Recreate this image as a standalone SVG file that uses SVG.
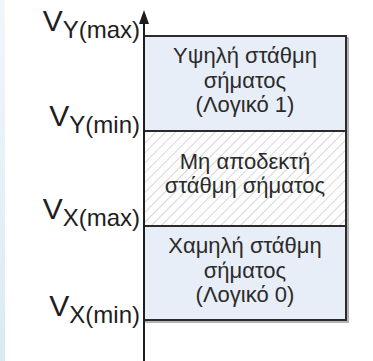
<svg xmlns="http://www.w3.org/2000/svg" width="373" height="361" viewBox="0 0 373 361">
<defs>
<linearGradient id="strip" x1="0" y1="0" x2="0" y2="1">
<stop offset="0" stop-color="#f0f7fb"/>
<stop offset="1" stop-color="#d9eaf4"/>
</linearGradient>
<pattern id="hatch" patternUnits="userSpaceOnUse" width="7" height="7" patternTransform="rotate(45)">
<rect width="7" height="7" fill="#ffffff"/>
<line x1="0" y1="0" x2="0" y2="7" stroke="#bdbdbd" stroke-width="1.2"/>
</pattern>
</defs>
<style>
.box{stroke:#2b2b2b;stroke-width:2}
.lbl{font-family:"Liberation Sans",Arial,sans-serif;fill:#1e1e1e}
.txt{font-family:"Liberation Sans",Arial,sans-serif;font-size:22px;fill:#2b2b2b;text-anchor:middle}
.big{font-size:30px}
.sub{font-size:24px}
</style>
<rect x="0" y="0" width="373" height="361" fill="#ffffff"/>
<rect x="0" y="0" width="5" height="361" fill="url(#strip)"/>
<rect x="146" y="38" width="202" height="284" fill="none" stroke="#9a9a9a" stroke-width="1.5"/>
<g id="high">
<rect class="box" x="144" y="36" width="202" height="95" fill="#e8eef8"/>
<text class="txt" x="245" y="63">Υψηλή στάθμη</text>
<text class="txt" x="245" y="88">σήματος</text>
<text class="txt" x="245" y="112">(Λογικό 1)</text>
</g>
<g id="forbidden">
<rect class="box" x="144" y="131" width="202" height="95" fill="url(#hatch)"/>
<text class="txt" x="245" y="169">Μη αποδεκτή</text>
<text class="txt" x="245" y="193">στάθμη σήματος</text>
</g>
<g id="labels">
<text class="lbl" x="140" y="38" text-anchor="end"><tspan class="big" dy="-7">V</tspan><tspan class="sub" dy="7">Y(max)</tspan></text>
<text class="lbl" x="140" y="133" text-anchor="end"><tspan class="big" dy="-7">V</tspan><tspan class="sub" dy="7">Y(min)</tspan></text>
<text class="lbl" x="140" y="226" text-anchor="end"><tspan class="big" dy="-7">V</tspan><tspan class="sub" dy="7">X(max)</tspan></text>
<text class="lbl" x="140" y="323" text-anchor="end"><tspan class="big" dy="-7">V</tspan><tspan class="sub" dy="7">X(min)</tspan></text>
</g>
<g id="low">
<rect class="box" x="144" y="226" width="202" height="94" fill="#e8eef8"/>
<text class="txt" x="245" y="253">Χαμηλή στάθμη</text>
<text class="txt" x="245" y="278">σήματος</text>
<text class="txt" x="245" y="302">(Λογικό 0)</text>
</g>
<g id="connectors">
<line x1="144" y1="361" x2="144" y2="20" stroke="#1e1e1e" stroke-width="2"/>
<polygon points="144,10 149,24 139,24" fill="#1e1e1e"/>
</g>
</svg>
